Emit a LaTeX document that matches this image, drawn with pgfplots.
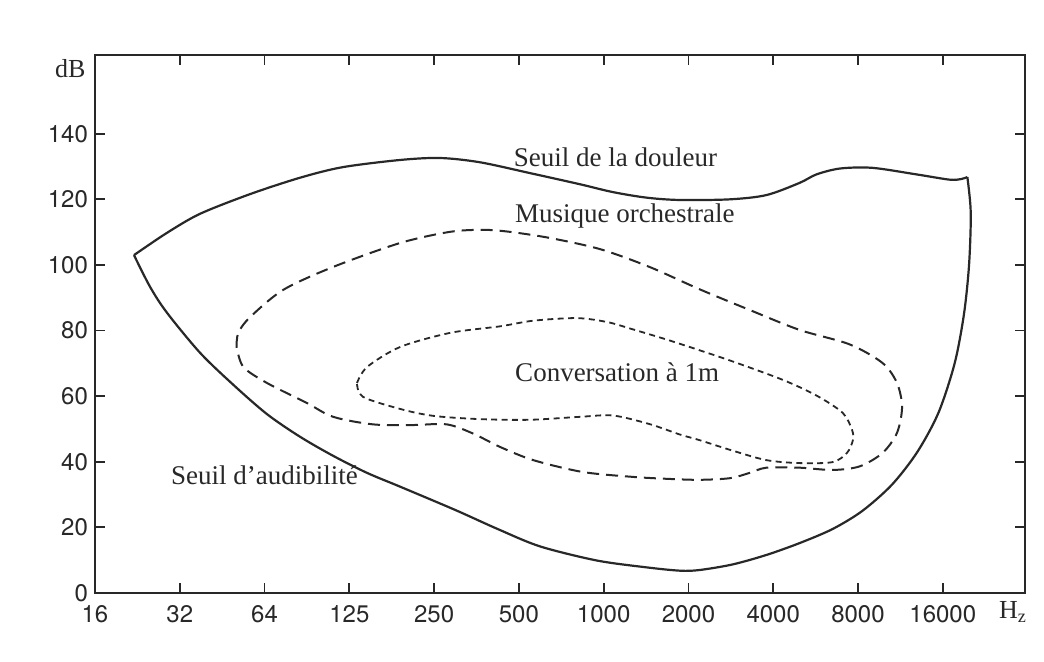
\documentclass[border=0pt]{standalone}
\usepackage{fontspec}
\setmainfont{Liberation Serif}
\newfontfamily\tickfont{TeX Gyre Heros}
\usepackage{pgfplots}
\pgfplotsset{compat=1.18}
\definecolor{ink}{RGB}{40,40,40}
\begin{document}
\begin{tikzpicture}
\useasboundingbox (-47.5pt,-34.5pt) rectangle (474.5pt,296.5pt);
\begin{axis}[
  at={(0,0)}, anchor=origin,
  scale only axis, width=465pt, height=269pt,
  xmin=0, xmax=10.97, ymin=0, ymax=164,
  axis line style={ink, line width=1pt},
  every tick/.style={ink, line width=0.9pt},
  major tick length=5pt,
  tick align=inside,
  xtick={0,1,2,3,4,5,6,7,8,9,10},
  xticklabels={16,32,64,125,250,500,1000,2000,4000,8000,16000},
  ytick={0,20,40,60,80,100,120,140},
  /pgf/number format/assume math mode=true,
  ticklabel style={font=\tickfont\fontsize{12}{12}\selectfont, text=ink},
  xticklabel style={yshift=-2.5pt},
  clip=false,
]
% Seuil de la douleur (upper edge)
\addplot[ink, line width=1.1pt, smooth, tension=0.5] coordinates {
(0.46,103.0) (0.85,109.8) (1.24,115.6) (1.83,121.6) (2.42,126.6) (2.92,129.8)
(3.60,132.0) (4.07,132.6) (4.54,131.3) (5.13,128.0) (5.72,124.6) (6.11,122.2)
(6.51,120.5) (6.90,119.8) (7.49,120.0) (7.92,121.3) (8.31,125.0) (8.51,127.6)
(8.79,129.4) (9.17,129.6) (9.69,127.6) (10.08,126.0) (10.22,126.2) (10.29,126.8)
};
% right edge and Seuil d'audibilite
\addplot[ink, line width=1.1pt, smooth, tension=0.5] coordinates {
(10.29,126.8) (10.33,116.0) (10.31,100.0) (10.25,85.0) (10.14,70.0) (9.95,55.0)
(9.70,43.0) (9.40,33.0) (9.05,25.0) (8.70,19.5) (8.31,15.2) (7.92,11.6)
(7.52,8.7) (7.13,7.0) (6.90,6.8) (6.51,7.8) (5.92,9.9) (5.25,14.2)
(4.75,19.5) (4.25,25.3) (3.60,32.4) (3.21,36.6) (2.81,41.8) (2.42,47.6)
(2.03,54.5) (1.63,63.5) (1.24,73.2) (0.85,85.4) (0.65,93.3) (0.46,103.0)
};
% Musique orchestrale
\addplot[ink, line width=1pt, smooth, tension=0.5, dash pattern=on 6pt off 3.5pt] coordinates {
(1.67,75.0) (1.69,79.3) (1.83,84.1) (2.22,92.4) (2.81,99.4) (3.60,106.7)
(4.19,110.1) (4.58,110.7) (4.89,110.1) (5.37,108.2) (5.96,104.8) (6.54,99.4)
(7.13,92.6) (7.72,86.3) (8.31,80.2) (8.90,75.8) (9.29,70.1) (9.46,64.0)
(9.52,56.7) (9.46,48.8) (9.29,42.7) (9.02,38.6) (8.70,37.5) (8.31,38.2)
(7.92,38.2) (7.72,36.6) (7.49,35.0) (7.13,34.5) (6.75,34.8) (6.34,35.4)
(5.75,36.9) (5.17,40.5) (4.78,44.5) (4.46,48.6) (4.15,51.4) (3.75,51.2)
(3.28,51.4) (2.81,53.7) (2.50,57.9) (2.03,64.0) (1.75,68.9) (1.67,75.0)
};
% Conversation a 1m
\addplot[ink, line width=0.9pt, smooth, tension=0.5, dash pattern=on 3pt off 2.2pt] coordinates {
(3.09,64.0) (3.21,68.9) (3.60,75.0) (4.19,79.3) (4.78,81.3) (5.17,83.0)
(5.68,83.8) (6.04,82.6) (6.34,80.4) (6.75,77.2) (7.13,74.0) (7.52,70.6)
(8.11,65.0) (8.51,60.2) (8.82,54.9) (8.93,49.7) (8.94,46.6) (8.87,42.7)
(8.70,39.9) (8.31,39.6) (7.92,40.5) (7.52,43.4) (7.13,46.6) (6.90,48.3)
(6.54,51.5) (6.11,54.1) (5.72,53.7) (5.13,52.8) (4.54,53.0) (3.99,54.0)
(3.60,56.1) (3.16,59.8) (3.09,64.0)
};
\node[text=ink, font=\fontsize{13.5}{14}\selectfont] at (axis cs:6.14,132.9) {Seuil de la douleur};
\node[text=ink, font=\fontsize{13.5}{14}\selectfont] at (axis cs:6.25,115.0) {Musique orchestrale};
\node[text=ink, font=\fontsize{13.5}{14}\selectfont] at (axis cs:6.16,67.4) {Conversation à 1m};
\node[text=ink, font=\fontsize{13.5}{14}\selectfont] at (axis cs:2.00,35.9) {Seuil d’audibilité};
\node[text=ink, font=\fontsize{13}{14}\selectfont] at (axis cs:-0.29,160) {dB};
\node[text=ink, anchor=west, font=\fontsize{13}{14}\selectfont, inner sep=0pt] at (axis cs:10.66,-5.8) {H\textsubscript{z}};
\end{axis}
\end{tikzpicture}
\end{document}
